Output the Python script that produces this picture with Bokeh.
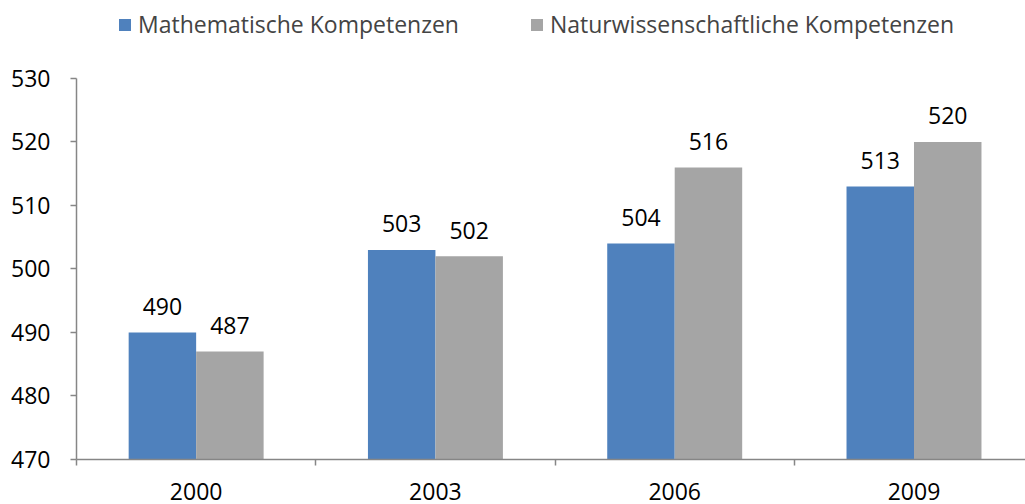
from bokeh.plotting import figure
from bokeh.models import FixedTicker, Range1d, Legend, LegendItem, ColumnDataSource
from bokeh.core.properties import value
from bokeh.embed import file_html
from bokeh.resources import INLINE

years = ["2000", "2003", "2006", "2009"]
math_vals = [490, 503, 504, 513]
sci_vals = [487, 502, 516, 520]
series_names = ["Mathematische Kompetenzen", "Naturwissenschaftliche Kompetenzen"]
y_ticks = [470, 480, 490, 500, 510, 520, 530]

FONT = "Open Sans"
FS = "23px"
BLUE = "#4F81BD"
GRAY = "#A5A5A5"
AXIS = "#868686"

centers = [i + 0.5 for i in range(len(years))]
bw = 0.282

# frame: left 76, top 0, bottom 459 (px); 6.35 px per score point
p = figure(width=1025, height=504, output_backend="svg", toolbar_location=None,
           x_range=Range1d(0, 3.966), y_range=Range1d(470, 542.28),
           min_border_left=76, min_border_right=0, min_border_top=0, min_border_bottom=45)
p.outline_line_color = None
p.xgrid.visible = False
p.ygrid.visible = False

src_m = ColumnDataSource(dict(x=[c - bw / 2 for c in centers], top=math_vals,
                              lab=[str(v) for v in math_vals]))
src_s = ColumnDataSource(dict(x=[c + bw / 2 for c in centers], top=sci_vals,
                              lab=[str(v) for v in sci_vals]))
r1 = p.vbar(x="x", top="top", bottom=470, width=bw, source=src_m, fill_color=BLUE, line_color=None)
r2 = p.vbar(x="x", top="top", bottom=470, width=bw, source=src_s, fill_color=GRAY, line_color=None)

for src in (src_m, src_s):
    p.text(x="x", y="top", text="lab", source=src, text_align="center", text_baseline="alphabetic",
           y_offset=-26, text_font=value(FONT), text_font_size=FS, text_color="black")

# axes
p.xaxis.ticker = FixedTicker(ticks=centers, minor_ticks=[0, 1, 2, 3])
p.xaxis.major_label_overrides = {c: y for c, y in zip(centers, years)}
p.xaxis.major_tick_out = 0
p.xaxis.major_tick_in = 0
p.xaxis.minor_tick_out = 6
p.xaxis.minor_tick_in = 0
p.xaxis.major_label_standoff = 17
p.yaxis.ticker = FixedTicker(ticks=y_ticks, minor_ticks=[])
p.yaxis.bounds = (470, 530)
p.yaxis.major_tick_out = 6
p.yaxis.major_tick_in = 0
p.yaxis.major_label_standoff = 20
for ax in (p.xaxis, p.yaxis):
    ax.axis_line_color = AXIS
    ax.axis_line_width = 1.5
    ax.major_tick_line_color = AXIS
    ax.minor_tick_line_color = AXIS
    ax.major_tick_line_width = 1.5
    ax.minor_tick_line_width = 1.5
    ax.major_label_text_font = FONT
    ax.major_label_text_font_size = FS
    ax.major_label_text_color = "black"

legend = Legend(items=[LegendItem(label=series_names[0], renderers=[r1]),
                       LegendItem(label=series_names[1], renderers=[r2])],
                orientation="horizontal", location=(41, 419),
                glyph_width=15, glyph_height=15, spacing=70, label_standoff=6,
                label_text_font=FONT, label_text_font_size=FS,
                background_fill_alpha=0, border_line_color=None, padding=0, margin=0)
p.add_layout(legend)

open("out.html", "w").write(file_html(p, INLINE))
